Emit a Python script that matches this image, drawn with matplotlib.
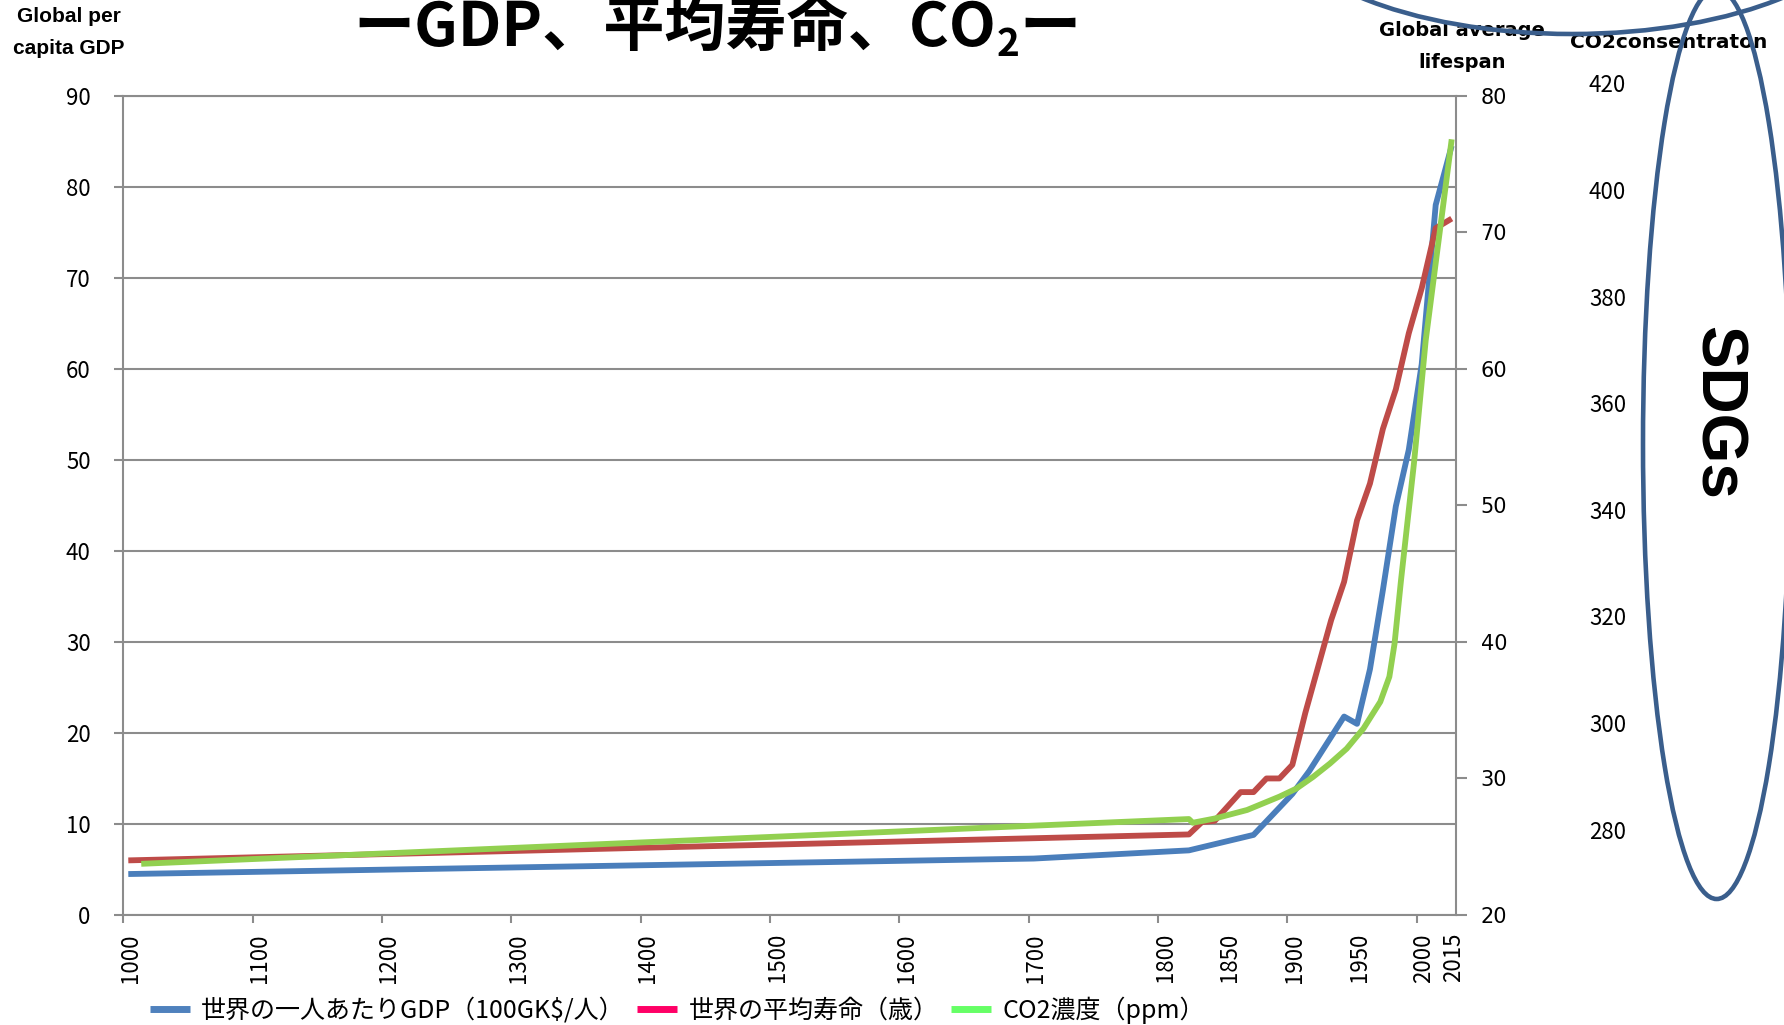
import numpy as np
import matplotlib
matplotlib.use("Agg")
import matplotlib.pyplot as plt
from matplotlib.patches import Ellipse
from matplotlib.lines import Line2D
from matplotlib.transforms import ScaledTranslation

plt.rcParams['font.family'] = ['Noto Sans CJK JP', 'DejaVu Sans']

# data
years_gdp = [1000, 1700, 1820, 1870, 1900, 1913, 1940, 1950, 1960, 1970, 1980, 1990, 2000, 2007, 2015]
gdp = [4.5, 6.2, 7.1, 8.8, 13.3, 15.8, 21.8, 21.0, 27.0, 35.7, 44.9, 51.1, 60.5, 78.0, 84.5]

years_life = [1000, 1820, 1830, 1840, 1860, 1870, 1880, 1890, 1900, 1910, 1920, 1930, 1940,
              1950, 1960, 1970, 1980, 1990, 2000, 2007, 2015]
life = [24.0, 25.9, 26.8, 26.9, 29.0, 29.0, 30.0, 30.0, 31.0, 34.8, 38.2, 41.6, 44.4,
        48.9, 51.6, 55.6, 58.5, 62.6, 65.9, 70.3, 71.0]

years_co2 = [1010, 1820, 1823, 1840, 1865, 1890, 1903, 1916, 1929, 1942, 1955, 1968, 1975,
             1979, 1984, 1994, 2002, 2015]
co2 = [273.6, 282.0, 281.3, 282.1, 283.7, 286.2, 287.7, 289.9, 292.4, 295.2, 299.0, 304.0,
       308.7, 314.9, 326.8, 348.7, 371.8, 409.5]

xtick_major = list(range(1000, 2001, 100))
xtick_extra = [1850, 1950, 2015]
gdp_ticks = list(range(0, 91, 10))
life_ticks = list(range(20, 81, 10))
co2_ticks = list(range(280, 421, 20))

legend_labels = ['世界の一人あたりGDP（100GK$/人）', '世界の平均寿命（歳）', 'CO2濃度（ppm）']

W, H = 1784, 1025
fig = plt.figure(figsize=(W / 100, H / 100), dpi=100, facecolor='white')

L, R, T, B = 123.3, 1455.7, 95.7, 915
ax = fig.add_axes([L / W, 1 - B / H, (R - L) / W, (B - T) / H])
ax2 = ax.twinx()
ax3 = fig.add_axes([L / W, 1 - B / H, (R - L) / W, (B - 78) / H], sharex=ax)
for a in (ax2, ax3):
    a.patch.set_visible(False)

# x scale: stretched after 2000
k = 1.546
def fwd(x):
    x = np.asarray(x, dtype=float)
    return np.where(x <= 2000, x, 2000 + (x - 2000) * k)
def inv(y):
    y = np.asarray(y, dtype=float)
    return np.where(y <= 2000, y, 2000 + (y - 2000) / k)
ax.set_xscale('function', functions=(fwd, inv))
ax.set_xlim(1000, 2019.5)

grey = '#8C8C8C'
shift = lambda a: a.transData + ScaledTranslation(5 / 100, 0, fig.dpi_scale_trans)

lw = 4.2
ax.plot(years_gdp, gdp, color='#4A7EBB', lw=lw, solid_joinstyle='round',
        solid_capstyle='butt', transform=shift(ax))
ax2.plot(years_life, life, color='#BE4B48', lw=lw, solid_joinstyle='round',
         solid_capstyle='butt', transform=shift(ax2))
ax3.plot(years_co2, co2, color='#92D050', lw=lw, solid_joinstyle='round',
         solid_capstyle='butt', transform=shift(ax3))

# left axis
ax.set_ylim(0, 90)
ax.set_yticks(gdp_ticks)
ax.grid(axis='y', color=grey, lw=1.5)
ax.set_axisbelow(True)
ax.tick_params(axis='y', length=6.5, width=1.5, color=grey, pad=17, labelsize=16)
for s in ax.spines.values():
    s.set_color(grey)
    s.set_linewidth(1.5)

# bottom axis
ax.set_xticks(xtick_major, labels=[str(y) for y in xtick_major])
ax.set_xticks(xtick_extra, labels=[str(y) for y in xtick_extra], minor=True)
ax.tick_params(axis='x', which='major', length=6, width=1.5, color=grey, pad=7,
               labelsize=16, labelrotation=90)
ax.tick_params(axis='x', which='minor', length=0, pad=13, labelsize=16, labelrotation=90)
for lab in ax.get_xticklabels(which='both'):
    lab.set_transform(lab.get_transform() + ScaledTranslation(7 / 100, 0, fig.dpi_scale_trans))

# right axis
ax2.set_ylim(20, 80)
ax2.set_yticks(life_ticks)
ax2.tick_params(axis='y', length=8, width=1.5, color=grey, pad=10)
for lab in ax2.get_yticklabels():
    lab.set_fontfamily('DejaVu Sans')
    lab.set_fontsize(15)
for s in ax2.spines.values():
    s.set_visible(False)

# CO2 axis
ax3.set_ylim(264, 421)
ax3.set_yticks(co2_ticks)
ax3.yaxis.tick_right()
ax3.spines['right'].set_position(('axes', 1.1))
for s in ax3.spines.values():
    s.set_color('none')
ax3.tick_params(axis='y', length=0, pad=0, labelsize=16)
ax3.xaxis.set_visible(False)

# axis titles
bold_sans = ['Liberation Sans', 'DejaVu Sans']
fig.text(69 / W, 1 - 17 / H, 'Global per', ha='center', va='center', fontsize=15,
         fontweight='bold', family=bold_sans)
fig.text(69 / W, 1 - 48 / H, 'capita GDP', ha='center', va='center', fontsize=15,
         fontweight='bold', family=bold_sans)
fig.text(1462 / W, 1 - 31 / H, 'Global average', ha='center', va='center', fontsize=14,
         fontweight='bold', family='DejaVu Sans')
fig.text(1462 / W, 1 - 63 / H, 'lifespan', ha='center', va='center', fontsize=14,
         fontweight='bold', family='DejaVu Sans')
fig.text(1669 / W, 1 - 42 / H, 'CO2consentraton', ha='center', va='center', fontsize=14.5,
         fontweight='bold', family='DejaVu Sans')

# title (top cut off as in the slide): main part, subscript 2, closing bar
renderer = fig.canvas.get_renderer()
base_y = 1 - 46 / H
t1 = fig.text(0, base_y, 'ーGDP、平均寿命、CO', ha='left', va='baseline',
              fontsize=44, fontweight='bold')
t2 = fig.text(0, base_y - 10 / H, '2', ha='left', va='baseline', fontsize=28, fontweight='bold')
t3 = fig.text(0, base_y, 'ー', ha='left', va='baseline', fontsize=44, fontweight='bold')
w1 = t1.get_window_extent(renderer).width
w2 = t2.get_window_extent(renderer).width
w3 = t3.get_window_extent(renderer).width
x0 = 717 - (w1 + w2 + w3) / 2
t1.set_x(x0 / W)
t2.set_x((x0 + w1) / W)
t3.set_x((x0 + w1 + w2) / W)

# ellipses and SDGs
edge = '#3A5E8C'
fig.add_artist(Ellipse((1716.7 / W, 1 - 444 / H), 2 * 73.7 / W, 2 * 455 / H,
                       transform=fig.transFigure, fill=False, ec=edge, lw=3.3, zorder=5))
fig.add_artist(Ellipse((1572 / W, 1 + 92 / H), 2 * 300 / W, 2 * 126 / H,
                       transform=fig.transFigure, fill=False, ec=edge, lw=3.3, zorder=5))
fig.text(1716.7 / W, 1 - 413 / H, 'SDGs', rotation=-90, ha='center', va='center',
         fontsize=46, fontweight='bold', family=bold_sans)

# legend
handles = [Line2D([], [], color=c, lw=5, solid_capstyle='butt')
           for c in ('#4F81BD', '#FF0066', '#66FF66')]
fig.legend(handles, legend_labels, loc='center left', bbox_to_anchor=(150 / W, 1 - 1010 / H),
           ncol=3, frameon=False, fontsize=18, handlelength=1.6, handletextpad=0.45,
           columnspacing=0.5, borderaxespad=0, borderpad=0)

fig.savefig('out.png', dpi=100)
